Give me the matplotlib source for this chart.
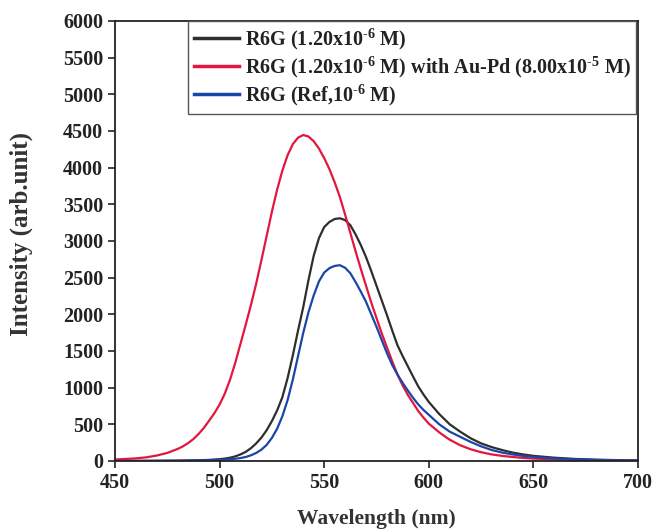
import matplotlib
matplotlib.use("Agg")
import matplotlib.pyplot as plt

# Emission spectra of Rhodamine 6G (fluorescence intensity vs wavelength)
wl_red = [450, 455, 460, 465, 470, 475, 480, 482.5, 485, 487.5, 490, 492.5, 495,
          497.5, 500, 502.5, 505, 507.5, 510, 512.5, 515, 517.5, 520, 522.5, 525,
          527.5, 530, 532.5, 535, 537.5, 540, 542.5, 545, 547.5, 550, 552.5, 555,
          557.5, 560, 562.5, 565, 567.5, 570, 572.5, 575, 577.5, 580, 582.5, 585,
          587.5, 590, 592.5, 595, 597.5, 600, 605, 610, 615, 620, 625, 630, 635,
          640, 645, 650, 660, 670, 680, 690, 700]
int_red = [20, 28, 36, 50, 75, 110, 165, 200, 245, 300, 370, 452, 550, 652, 770,
           920, 1110, 1340, 1600, 1860, 2130, 2420, 2740, 3070, 3400, 3700, 3960,
           4170, 4320, 4410, 4445, 4425, 4360, 4260, 4130, 3980, 3800, 3600, 3360,
           3110, 2860, 2620, 2390, 2160, 1950, 1740, 1550, 1360, 1180, 1030, 900,
           790, 680, 590, 510, 390, 290, 215, 160, 120, 90, 70, 55, 42, 33, 22, 15,
           10, 7, 5]

wl_black = [450, 460, 470, 480, 490, 495, 500, 502.5, 505, 507.5, 510, 512.5, 515,
            517.5, 520, 522.5, 525, 527.5, 530, 532.5, 535, 537.5, 540, 542.5, 545,
            547.5, 550, 552.5, 555, 557.5, 560, 562.5, 565, 567.5, 570, 572.5, 575,
            577.5, 580, 582.5, 585, 587.5, 590, 592.5, 595, 597.5, 600, 605, 610,
            615, 620, 625, 630, 635, 640, 645, 650, 660, 670, 680, 690, 700]
int_black = [0, 2, 3, 5, 10, 15, 25, 33, 45, 63, 90, 125, 175, 240, 320, 420, 545,
             690, 870, 1130, 1440, 1780, 2100, 2470, 2800, 3040, 3190, 3260, 3300,
             3310, 3285, 3215, 3090, 2945, 2780, 2590, 2390, 2190, 1990, 1780, 1580,
             1430, 1290, 1150, 1015, 905, 805, 640, 500, 400, 310, 240, 190, 150, 115,
             90, 70, 45, 28, 18, 12, 8]

wl_blue = [450, 470, 480, 490, 500, 502.5, 505, 507.5, 510, 512.5, 515, 517.5, 520,
           522.5, 525, 527.5, 530, 532.5, 535, 537.5, 540, 542.5, 545, 547.5, 550,
           552.5, 555, 557.5, 560, 562.5, 565, 567.5, 570, 572.5, 575, 577.5, 580,
           582.5, 585, 587.5, 590, 592.5, 595, 597.5, 600, 605, 610, 615, 620, 625,
           630, 635, 640, 645, 650, 660, 670, 680, 690, 700]
int_blue = [0, 2, 4, 8, 15, 19, 25, 31, 40, 55, 78, 110, 155, 220, 315, 440, 610,
            830, 1110, 1430, 1750, 2030, 2260, 2450, 2570, 2630, 2660, 2670, 2635,
            2560, 2440, 2310, 2170, 2000, 1830, 1650, 1470, 1310, 1180, 1065, 960,
            860, 770, 695, 630, 500, 400, 330, 260, 200, 150, 115, 90, 70, 55, 35,
            22, 14, 9, 6]

labels = [
    r"R6G (1.20x10$^{\text{-6}}$ M)",
    r"R6G (1.20x10$^{\text{-6}}$ M) with Au-Pd (8.00x10$^{\text{-5}}$ M)",
    r"R6G (Ref,10$^{\text{-6}}$ M)",
]
x_ticks = [450, 500, 550, 600, 650, 700]
y_ticks = list(range(0, 6001, 500))

plt.rcParams["font.family"] = ["Liberation Serif", "DejaVu Serif"]
plt.rcParams["font.weight"] = "bold"
plt.rcParams["mathtext.fontset"] = "custom"
plt.rcParams["mathtext.rm"] = "Liberation Serif:bold"
plt.rcParams["mathtext.bf"] = "Liberation Serif:bold"
plt.rcParams["mathtext.it"] = "Liberation Serif:bold"

fig = plt.figure(figsize=(6.52, 5.31), dpi=100)
ax = fig.add_axes([115 / 652, 1 - 461 / 531, 523 / 652, 440 / 531])

ax.plot(wl_black, int_black, color="#2e2e2e", lw=1.6, label=labels[0])
ax.plot(wl_red, int_red, color="#e3173e", lw=1.6, label=labels[1])
ax.plot(wl_blue, int_blue, color="#1c45a8", lw=1.6, label=labels[2])

ax.set_xlim(450, 700)
ax.set_ylim(0, 6000)
ax.set_xticks(x_ticks)
ax.set_yticks(y_ticks)
ax.tick_params(direction="out", length=5, width=1.2, labelsize=14.5, colors="#222222")
for lab in ax.get_xticklabels() + ax.get_yticklabels():
    lab.set_fontweight("bold")
for sp in ax.spines.values():
    sp.set_linewidth(1.3)
    sp.set_color("#222222")

ax.set_xlabel("Wavelength (nm)", fontsize=15.5, fontweight="bold", color="#333333", labelpad=12)
ax.set_ylabel("Intensity (arb.unit)", fontsize=18, fontweight="bold", color="#333333")
ax.yaxis.set_label_coords(-0.157, 0.515)

leg = ax.legend(loc="upper left", bbox_to_anchor=(188 / 652, 1 - 21 / 531),
                bbox_transform=fig.transFigure, borderaxespad=0, fancybox=False,
                framealpha=1, edgecolor="#555555", fontsize=14.5, handlelength=2.25,
                handletextpad=0.3, labelspacing=0.14, borderpad=0.28)
leg.get_frame().set_linewidth(1.0)
for t in leg.get_texts():
    t.set_fontweight("bold")
    t.set_color("#222222")
for h in leg.get_lines():
    h.set_linewidth(2.5)

fig.savefig("out.png", dpi=100)
